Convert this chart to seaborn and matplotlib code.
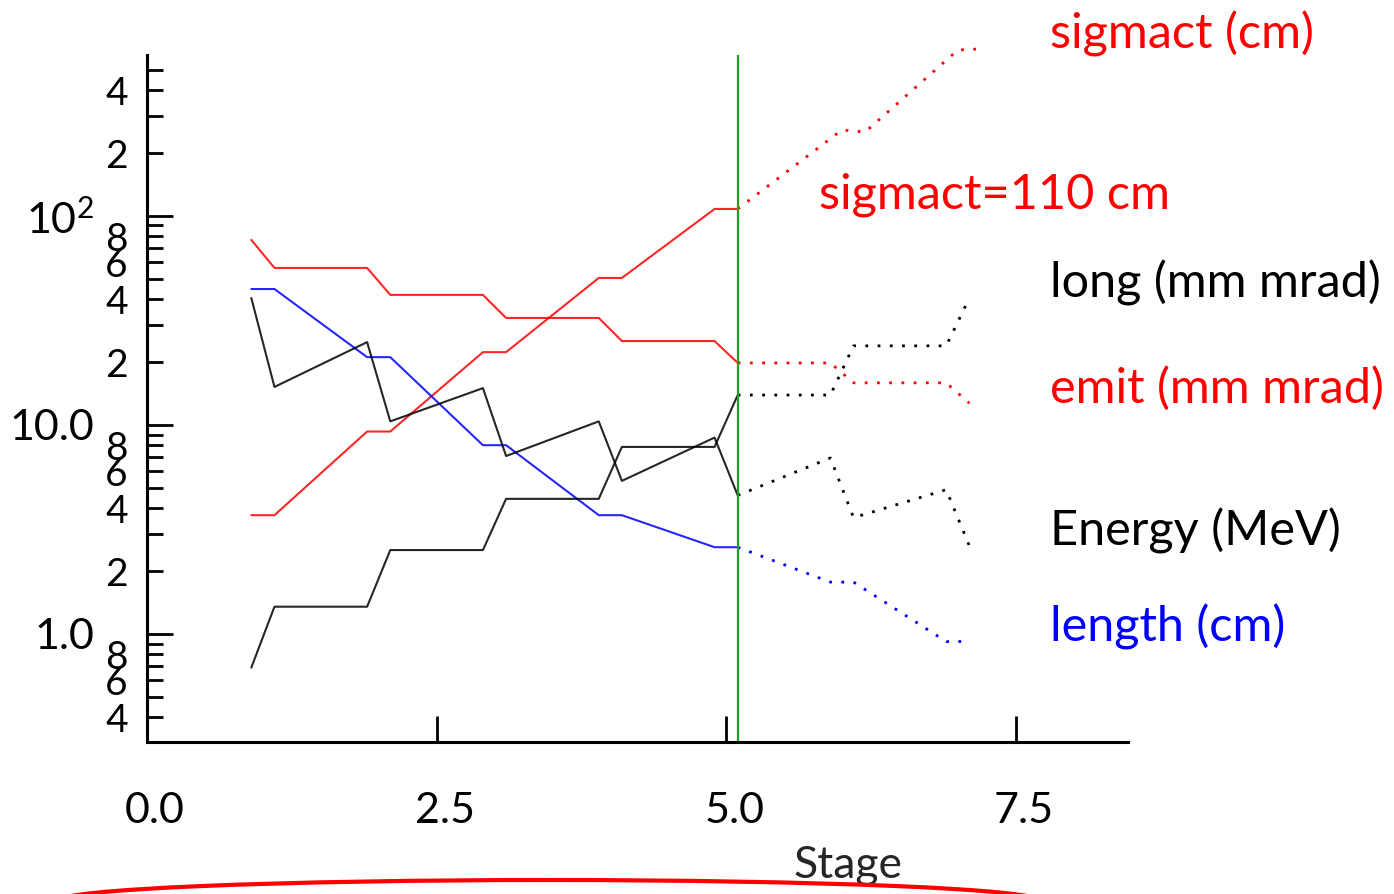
import matplotlib
matplotlib.use("Agg")
import matplotlib.pyplot as plt
import matplotlib.ticker as mticker
import matplotlib.transforms as mtransforms
from matplotlib.patches import Ellipse
import numpy as np
import seaborn as sns

# Stage positions (solid part up to the marker, dotted extrapolation after it)
stage = [0.9, 1.1, 1.9, 2.1, 2.9, 3.1, 3.9, 4.1, 4.9, 5.1]
stage_ext = [5.1, 5.9, 6.1, 6.9, 7.1]
stage_ext_sig = [5.1, 6.0, 6.2, 7.0, 7.2]

sigmact = [3.7, 3.7, 9.3, 9.3, 22.3, 22.3, 50.5, 50.5, 108, 108]
sigmact_ext = [108, 258, 252, 622, 630]
emit = [76.8, 56.4, 56.4, 41.9, 41.9, 32.5, 32.5, 25.2, 25.2, 19.8]
emit_ext = [19.8, 19.8, 15.9, 15.9, 12.7]
length = [44.7, 44.7, 21.1, 21.1, 8.0, 8.0, 3.7, 3.7, 2.6, 2.6]
length_ext = [2.6, 1.77, 1.77, 0.92, 0.92]
long_emit = [0.69, 1.35, 1.35, 2.52, 2.52, 4.43, 4.43, 7.85, 7.85, 13.9]
long_ext = [13.9, 13.9, 23.9, 23.9, 40.5]
energy = [40.5, 15.2, 24.9, 10.4, 15.0, 7.1, 10.4, 5.4, 8.7, 4.6]
energy_ext = [4.6, 6.95, 3.6, 4.9, 2.64]

marker_stage = 5.1
label_x = 7.8

sns.set_style("ticks")
plt.rcParams['font.family'] = ['Lato', 'DejaVu Sans']
plt.rcParams['mathtext.default'] = 'regular'

fig = plt.figure(figsize=(13.94, 8.94), dpi=100)
ax = fig.add_axes([0.1055, 0.170, 0.7037, 0.7685])

dot = (0, (1, 3.4))
series = [
    (stage, sigmact, stage_ext_sig, sigmact_ext, 'red', 'sigmact (cm)'),
    (stage, emit, stage_ext, emit_ext, 'red', 'emit (mm mrad)'),
    (stage, length, stage_ext, length_ext, 'blue', 'length (cm)'),
    (stage, long_emit, stage_ext, long_ext, 'black', 'long (mm mrad)'),
    (stage, energy, stage_ext, energy_ext, 'black', 'Energy (MeV)'),
]
for xs, ys, xe, ye, col, name in series:
    sns.lineplot(x=xs, y=ys, color=col, lw=1.5, alpha=0.85, ax=ax, clip_on=False)
    sns.lineplot(x=xe, y=ye, color=col, lw=2.0, linestyle=dot, ax=ax, clip_on=False)
    ax.text(label_x, ye[-1], name, color=col, fontsize=35, va='baseline',
            ha='left', clip_on=False)

ax.text(5.8, sigmact[-1], 'sigmact=110 cm', color='red', fontsize=35,
        va='baseline', ha='left')

ax.axvline(marker_stage, color='#22a022', lw=1.6)

ax.set_yscale('log')
ax.set_ylim(0.304, 589)
ax.set_xlim(0, 8.47)

major_names = {1: '1.0', 10: '10.0', 100: r'$\mathregular{10^{2}}$'}


def major_fmt(v, pos):
    return major_names.get(int(round(v)), '')


def minor_fmt(v, pos):
    mant = v / 10 ** np.floor(np.log10(v) + 1e-9)
    m = int(round(mant))
    return str(m) if m in (2, 4, 6, 8) else ''


ax.yaxis.set_major_locator(mticker.FixedLocator([1, 10, 100]))
ax.yaxis.set_major_formatter(mticker.FuncFormatter(major_fmt))
ax.yaxis.set_minor_locator(mticker.LogLocator(base=10, subs=np.arange(2, 10), numticks=20))
ax.yaxis.set_minor_formatter(mticker.FuncFormatter(minor_fmt))
ax.xaxis.set_major_locator(mticker.FixedLocator([0, 2.5, 5.0, 7.5]))
ax.xaxis.set_major_formatter(mticker.FormatStrFormatter('%.1f'))

ax.tick_params(axis='y', which='major', direction='in', length=19, width=2,
               pad=38, labelsize=31, colors='black')
ax.tick_params(axis='y', which='minor', direction='in', length=11.5, width=2,
               pad=14, labelsize=28, colors='black')
ax.tick_params(axis='x', which='major', direction='in', length=19, width=2,
               pad=36, labelsize=31, colors='black')
ax.tick_params(axis='x', which='minor', bottom=False)

# x tick labels sit a little right of their ticks in the original
shift = mtransforms.ScaledTranslation(8 / 100, 0, fig.dpi_scale_trans)
for lab in ax.get_xticklabels():
    lab.set_transform(lab.get_transform() + shift)

for side in ['top', 'right']:
    ax.spines[side].set_visible(False)
for side in ['left', 'bottom']:
    ax.spines[side].set_linewidth(2.2)
    ax.spines[side].set_color('black')

ax.set_xlabel('Stage', fontsize=32)
ax.xaxis.set_label_coords(0.715, -0.15)
ax.set_ylabel('')

# red arc peeking in at the bottom edge
fig.add_artist(Ellipse((0.3938, -0.0073), 0.703, 0.0459, transform=fig.transFigure,
                       fill=False, edgecolor='red', lw=3, clip_on=False))

fig.savefig('out.png', dpi=100)
